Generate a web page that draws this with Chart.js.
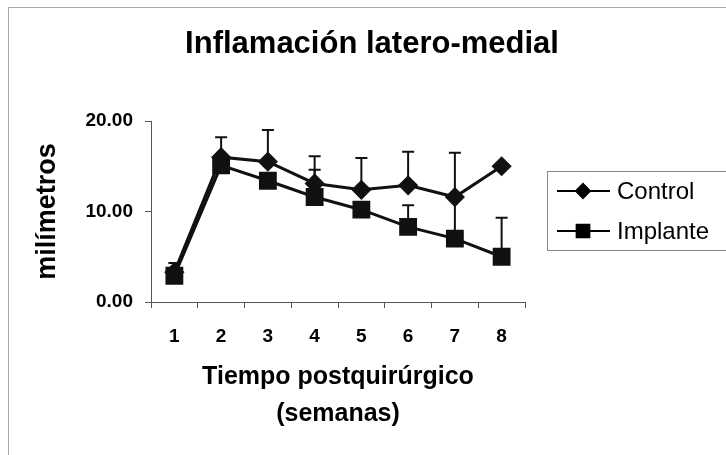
<!DOCTYPE html>
<html>
<head>
<meta charset="utf-8">
<script src="https://cdn.jsdelivr.net/npm/chart.js@4"></script>
<style>
  html, body { margin: 0; padding: 0; background: #fff; }
  #wrap { width: 726px; height: 455px; }
</style>
</head>
<body>
<div id="wrap"><canvas id="chart" width="726" height="455"></canvas></div>
<script>
// data
const weeks = ['1', '2', '3', '4', '5', '6', '7', '8'];
const controlValues = [3.3, 16.0, 15.5, 13.1, 12.4, 12.9, 11.6, 15.0];
const controlErrors = [1.0, 2.2, 3.5, 3.0, 3.5, 3.7, 4.9, 0];
const implantValues = [2.9, 15.1, 13.4, 11.6, 10.2, 8.3, 7.0, 5.0];
const implantErrors = [0, 0, 0, 3.0, 0, 2.4, 4.3, 4.3];
const yTicks = [0, 10, 20];

const FONT = "'Liberation Sans', Arial, sans-serif";

// upward error bars with caps, one set per dataset
const errorBars = {
    id: 'errorBars',
    afterDatasetsDraw(chart) {
        const ctx = chart.ctx;
        const y = chart.scales.y;
        chart.data.datasets.forEach(function(ds, i) {
            const meta = chart.getDatasetMeta(i);
            ctx.save();
            ctx.strokeStyle = '#111';
            ctx.lineWidth = 2;
            meta.data.forEach(function(pt, j) {
                const err = ds.errors[j];
                if (!err) return;
                const top = y.getPixelForValue(ds.data[j] + err);
                ctx.beginPath();
                ctx.moveTo(pt.x, pt.y);
                ctx.lineTo(pt.x, top);
                ctx.moveTo(pt.x - 6, top);
                ctx.lineTo(pt.x + 6, top);
                ctx.stroke();
            });
            ctx.restore();
        });
    }
};

// title, legend box and outer frame
const decorations = {
    id: 'decorations',
    afterDraw(chart) {
        const ctx = chart.ctx;
        ctx.save();
        // frame (left and top edges are what shows in the picture)
        ctx.strokeStyle = '#aaa';
        ctx.lineWidth = 1;
        ctx.beginPath();
        ctx.moveTo(8.5, 455);
        ctx.lineTo(8.5, 7.5);
        ctx.lineTo(726, 7.5);
        ctx.stroke();

        // title
        ctx.fillStyle = '#000';
        ctx.font = 'bold 31px ' + FONT;
        ctx.textAlign = 'center';
        ctx.textBaseline = 'middle';
        ctx.fillText('Inflamación latero-medial', 372, 44);

        // legend
        ctx.strokeStyle = '#888';
        ctx.strokeRect(547.5, 171.5, 180, 79);
        const rows = [191, 231];
        chart.data.datasets.forEach(function(ds, i) {
            const yy = rows[i];
            ctx.strokeStyle = '#000';
            ctx.lineWidth = 2;
            ctx.beginPath();
            ctx.moveTo(557, yy);
            ctx.lineTo(610, yy);
            ctx.stroke();
            Chart.helpers.drawPoint(ctx, {
                pointStyle: ds.pointStyle,
                radius: ds.legendRadius,
                borderWidth: 1
            }, 583, yy);
            ctx.fillStyle = '#000';
            ctx.fill();
            ctx.font = '24px ' + FONT;
            ctx.textAlign = 'left';
            ctx.fillText(ds.label, 617, yy + 1);
        });
        ctx.restore();
    }
};

new Chart(document.getElementById('chart'), {
    type: 'line',
    data: {
        labels: weeks,
        datasets: [
            {
                label: 'Control',
                data: controlValues,
                errors: controlErrors,
                borderColor: '#111',
                backgroundColor: '#111',
                borderWidth: 3,
                pointStyle: 'rectRot',
                pointRadius: 8,
                legendRadius: 7,
                tension: 0
            },
            {
                label: 'Implante',
                data: implantValues,
                errors: implantErrors,
                borderColor: '#111',
                backgroundColor: '#111',
                borderWidth: 3,
                pointStyle: 'rect',
                pointRadius: 10.5,
                legendRadius: 9,
                tension: 0
            }
        ]
    },
    options: {
        responsive: false,
        animation: false,
        layout: { padding: { top: 121, right: 201, bottom: 0, left: 0 } },
        plugins: {
            legend: { display: false },
            title: { display: false },
            tooltip: { enabled: false }
        },
        scales: {
            x: {
                offset: true,
                grid: {
                    offset: true,
                    drawOnChartArea: false,
                    tickLength: 6,
                    color: '#555'
                },
                border: { color: '#555', width: 1 },
                ticks: {
                    color: '#000',
                    padding: 17,
                    font: { family: FONT, size: 19, weight: 'bold' }
                },
                title: {
                    display: true,
                    text: ['Tiempo postquirúrgico', '(semanas)'],
                    color: '#000',
                    font: { family: FONT, size: 25, weight: 'bold', lineHeight: 1.48 },
                    padding: { top: 0, bottom: 22 }
                },
                afterFit: function(scale) { scale.height = 153; }
            },
            y: {
                min: 0,
                max: 20,
                afterBuildTicks: function(scale) {
                    scale.ticks = yTicks.map(function(v) { return { value: v }; });
                },
                grid: {
                    drawOnChartArea: false,
                    tickLength: 6,
                    color: '#555'
                },
                border: { color: '#555', width: 1 },
                ticks: {
                    color: '#000',
                    padding: 12,
                    font: { family: FONT, size: 19, weight: 'bold' },
                    callback: function(v) { return Number(v).toFixed(2); }
                },
                title: {
                    display: true,
                    text: 'milímetros',
                    color: '#000',
                    font: { family: FONT, size: 27, weight: 'bold', lineHeight: 1.2 },
                    padding: { top: 31, bottom: 0 }
                },
                afterFit: function(scale) { scale.width = 151; }
            }
        }
    },
    plugins: [errorBars, decorations]
});
</script>
</body>
</html>
